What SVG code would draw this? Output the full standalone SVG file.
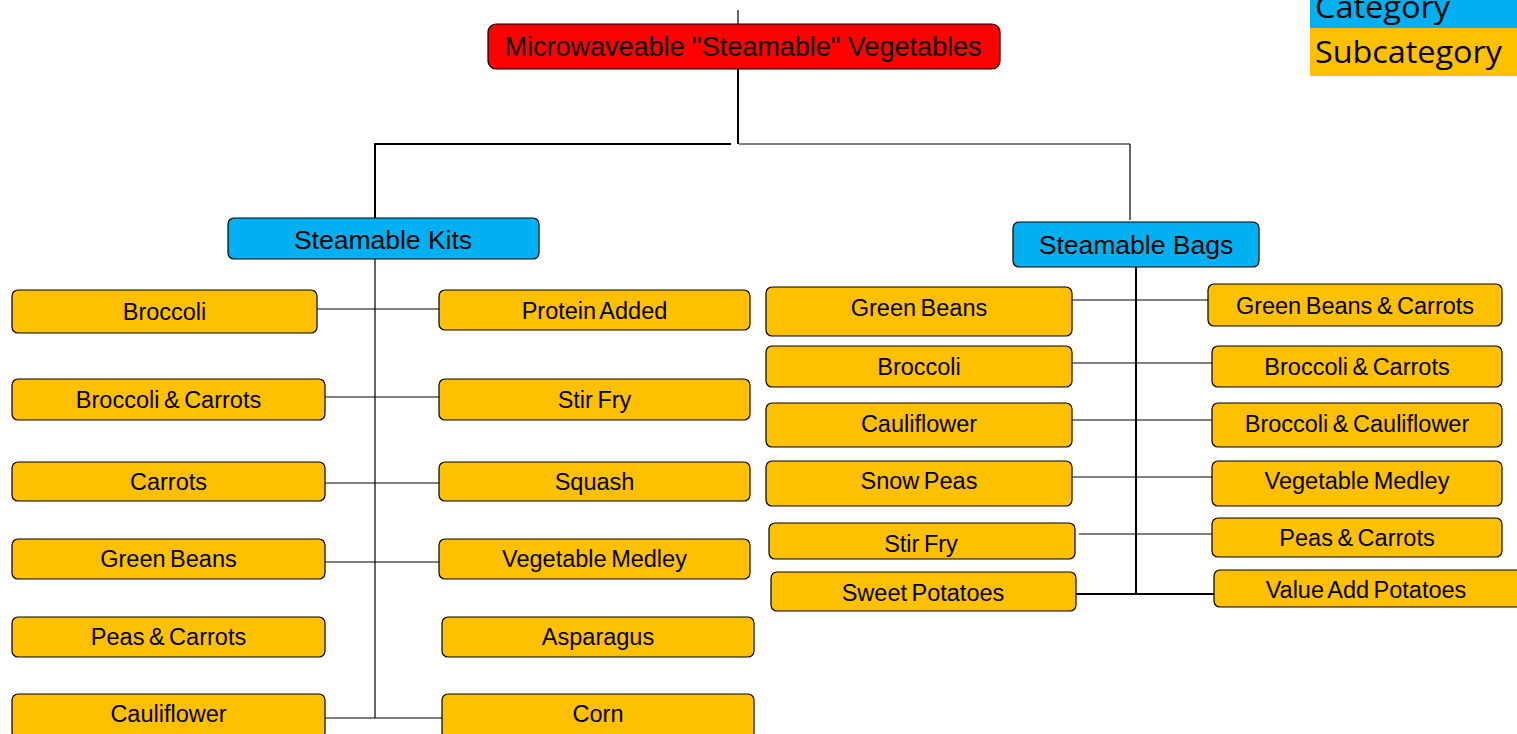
<svg xmlns="http://www.w3.org/2000/svg" width="1517" height="734" viewBox="0 0 1517 734">
<style>
.box{stroke:#000;stroke-width:1.2}
.root{fill:#FF0000}
.cat{fill:#00B0F0}
.sub{fill:#FFC000}
text{font-family:"Liberation Sans",Arial,sans-serif;fill:#000;text-anchor:middle}
.t1{font-size:27px}
.t2{font-size:26.5px}
.t3{font-size:23.5px;word-spacing:-2px}
.lg{font-family:"Open Sans","Liberation Sans",sans-serif;font-size:31px;text-anchor:start}
.ln{stroke:#000;fill:none}
.thin{stroke-width:1.2}
.thick{stroke-width:2}
</style>
<rect width="1517" height="734" fill="#fff"/>
<g id="connectors">
<line class="ln thin" x1="738" y1="10" x2="738" y2="24"/>
<line class="ln thick" x1="738" y1="69" x2="738" y2="144"/>
<line class="ln thick" x1="374" y1="144" x2="731" y2="144"/>
<line class="ln thin" x1="739" y1="144" x2="1130" y2="144" stroke="#333"/>
<line class="ln thick" x1="375" y1="143" x2="375" y2="218"/>
<line class="ln thin" x1="1130" y1="144" x2="1130" y2="220" stroke="#333"/>
<line class="ln thin" x1="375" y1="259" x2="375" y2="718"/>
<line class="ln thin" x1="317" y1="309" x2="439" y2="309"/>
<line class="ln thin" x1="325" y1="397" x2="439" y2="397"/>
<line class="ln thin" x1="325" y1="483" x2="439" y2="483"/>
<line class="ln thin" x1="325" y1="562" x2="439" y2="562"/>
<line class="ln thin" x1="325" y1="718" x2="442" y2="718"/>
<line class="ln thick" x1="1136" y1="267" x2="1136" y2="594"/>
<line class="ln thin" x1="1071" y1="300" x2="1209" y2="300"/>
<line class="ln thin" x1="1072" y1="363" x2="1212" y2="363"/>
<line class="ln thin" x1="1072" y1="420" x2="1212" y2="420"/>
<line class="ln thin" x1="1072" y1="477" x2="1212" y2="477"/>
<line class="ln thin" x1="1079" y1="534" x2="1212" y2="534"/>
<line class="ln thick" x1="1069" y1="594" x2="1214" y2="594"/>
</g>
<g id="legend">
<rect x="1310" y="0" width="207" height="28" fill="#00B0F0"/>
<rect x="1310" y="28" width="207" height="48" fill="#FFC000"/>
<text class="lg" x="1315" y="18" textLength="135" lengthAdjust="spacingAndGlyphs">Category</text>
<text class="lg" x="1315" y="63" textLength="187" lengthAdjust="spacingAndGlyphs">Subcategory</text>
</g>
<g id="root">
<rect class="box root" x="488" y="24" width="512" height="45" rx="8"/>
<text class="t1" x="743" y="56">Microwaveable "Steamable" Vegetables</text>
</g>
<g id="kits">
<rect class="box cat" x="228" y="218" width="311" height="41" rx="6"/>
<text class="t2" x="383" y="249">Steamable Kits</text>
</g>
<g id="bags">
<rect class="box cat" x="1013" y="222" width="246" height="45" rx="6"/>
<text class="t2" x="1136" y="254">Steamable Bags</text>
</g>
<g id="k-broccoli"><rect class="box sub" x="12" y="290" width="305" height="43" rx="6"/><text class="t3" x="164.5" y="320">Broccoli</text></g>
<g id="k-protein"><rect class="box sub" x="439" y="290" width="311" height="40" rx="6"/><text class="t3" x="594.5" y="319">Protein Added</text></g>
<g id="k-brocarrots"><rect class="box sub" x="12" y="379" width="313" height="41" rx="6"/><text class="t3" x="168.5" y="408">Broccoli &amp; Carrots</text></g>
<g id="k-stirfry"><rect class="box sub" x="439" y="379" width="311" height="41" rx="6"/><text class="t3" x="594.5" y="408">Stir Fry</text></g>
<g id="k-carrots"><rect class="box sub" x="12" y="462" width="313" height="39" rx="6"/><text class="t3" x="168.5" y="490">Carrots</text></g>
<g id="k-squash"><rect class="box sub" x="439" y="462" width="311" height="39" rx="6"/><text class="t3" x="594.5" y="490">Squash</text></g>
<g id="k-greenbeans"><rect class="box sub" x="12" y="539" width="313" height="40" rx="6"/><text class="t3" x="168.5" y="567">Green Beans</text></g>
<g id="k-medley"><rect class="box sub" x="439" y="539" width="311" height="40" rx="6"/><text class="t3" x="594.5" y="567">Vegetable Medley</text></g>
<g id="k-peas"><rect class="box sub" x="12" y="617" width="313" height="40" rx="6"/><text class="t3" x="168.5" y="645">Peas &amp; Carrots</text></g>
<g id="k-asparagus"><rect class="box sub" x="442" y="617" width="312" height="40" rx="6"/><text class="t3" x="598" y="645">Asparagus</text></g>
<g id="k-cauliflower"><rect class="box sub" x="12" y="694" width="313" height="44" rx="6"/><text class="t3" x="168.5" y="722">Cauliflower</text></g>
<g id="k-corn"><rect class="box sub" x="442" y="694" width="312" height="44" rx="6"/><text class="t3" x="598" y="722">Corn</text></g>
<g id="b-greenbeans"><rect class="box sub" x="766" y="287" width="306" height="49" rx="6"/><text class="t3" x="919" y="316">Green Beans</text></g>
<g id="b-gbcarrots"><rect class="box sub" x="1208" y="284" width="294" height="42" rx="6"/><text class="t3" x="1355" y="314">Green Beans &amp; Carrots</text></g>
<g id="b-broccoli"><rect class="box sub" x="766" y="346" width="306" height="41" rx="6"/><text class="t3" x="919" y="375">Broccoli</text></g>
<g id="b-brocarrots"><rect class="box sub" x="1212" y="346" width="290" height="41" rx="6"/><text class="t3" x="1357" y="375">Broccoli &amp; Carrots</text></g>
<g id="b-cauliflower"><rect class="box sub" x="766" y="403" width="306" height="44" rx="6"/><text class="t3" x="919" y="432">Cauliflower</text></g>
<g id="b-brocauli"><rect class="box sub" x="1212" y="403" width="290" height="44" rx="6"/><text class="t3" x="1357" y="432">Broccoli &amp; Cauliflower</text></g>
<g id="b-snowpeas"><rect class="box sub" x="766" y="461" width="306" height="45" rx="6"/><text class="t3" x="919" y="489">Snow Peas</text></g>
<g id="b-medley"><rect class="box sub" x="1212" y="461" width="290" height="45" rx="6"/><text class="t3" x="1357" y="489">Vegetable Medley</text></g>
<g id="b-stirfry"><rect class="box sub" x="769" y="523" width="306" height="36" rx="6"/><text class="t3" x="921" y="552">Stir Fry</text></g>
<g id="b-peas"><rect class="box sub" x="1212" y="518" width="290" height="39" rx="6"/><text class="t3" x="1357" y="546">Peas &amp; Carrots</text></g>
<g id="b-sweetpot"><rect class="box sub" x="771" y="572" width="305" height="39" rx="6"/><text class="t3" x="923" y="601">Sweet Potatoes</text></g>
<g id="b-valueadd"><rect class="box sub" x="1214" y="570" width="310" height="37" rx="6"/><text class="t3" x="1366" y="598">Value Add Potatoes</text></g>
</svg>
